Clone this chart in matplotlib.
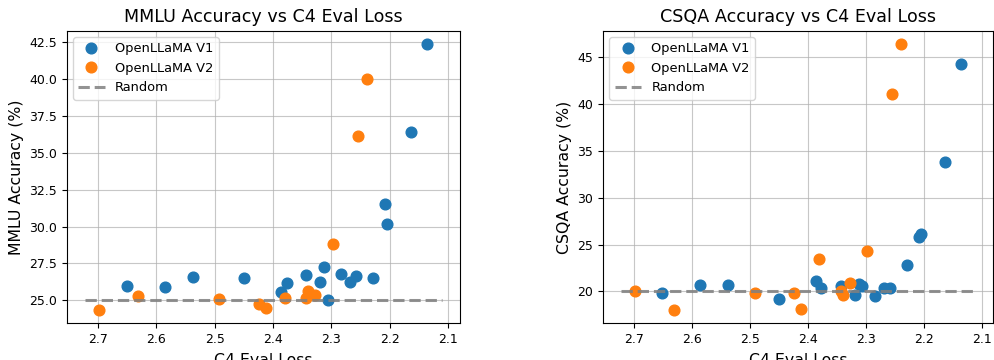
import matplotlib
matplotlib.use("Agg")
import matplotlib.pyplot as plt

# C4 evaluation loss per checkpoint
v1_loss = [2.651, 2.586, 2.538, 2.450, 2.386, 2.377, 2.343, 2.319, 2.312,
           2.306, 2.284, 2.268, 2.258, 2.229, 2.209, 2.205, 2.163, 2.136]
v2_loss = [2.698, 2.631, 2.492, 2.424, 2.412, 2.380, 2.343, 2.340, 2.328,
           2.298, 2.255, 2.239]

# MMLU accuracy (%)
v1_mmlu = [25.95, 25.88, 26.58, 26.53, 25.54, 26.20, 26.74, 26.26, 27.28,
           25.02, 26.76, 26.22, 26.62, 26.53, 31.54, 30.16, 36.43, 42.37]
v2_mmlu = [24.35, 25.32, 25.09, 24.75, 24.50, 25.16, 25.16, 25.63, 25.34,
           28.81, 36.16, 40.02]

# CSQA accuracy (%)
v1_csqa = [19.79, 20.71, 20.64, 19.18, 21.14, 20.39, 20.57, 19.57, 20.78,
           20.57, 19.50, 20.36, 20.36, 22.85, 25.77, 26.16, 33.85, 44.29]
v2_csqa = [20.00, 18.01, 19.79, 19.86, 18.11, 23.42, 20.00, 19.57, 20.85,
           24.31, 41.08, 46.42]

random_mmlu = 25.0
random_csqa = 20.0

x_ticks = [2.7, 2.6, 2.5, 2.4, 2.3, 2.2, 2.1]

fig = plt.figure(figsize=(9.95, 3.6), dpi=100)
ax1 = fig.add_axes([0.067, 0.102, 0.395, 0.813])
ax2 = fig.add_axes([0.606, 0.102, 0.392, 0.813])

all_loss = v1_loss + v2_loss
line_x = [max(all_loss) + 0.025, min(all_loss) - 0.025]

panels = [
    (ax1, v1_mmlu, v2_mmlu, random_mmlu, "MMLU"),
    (ax2, v1_csqa, v2_csqa, random_csqa, "CSQA"),
]

for ax, v1, v2, rnd, name in panels:
    ax.set_axisbelow(True)
    ax.grid(True, color="#b0b0b0", linewidth=0.8, alpha=0.7)
    ax.plot(v1_loss, v1, "o", markersize=7.7, color="#1f77b4",
            label="OpenLLaMA V1")
    ax.plot(v2_loss, v2, "o", markersize=7.7, color="#ff7f0e",
            label="OpenLLaMA V2")
    ax.plot(line_x, [rnd, rnd], linestyle="--", color="gray", alpha=0.85,
            linewidth=2.2, label="Random")
    ax.set_xticks(x_ticks)
    ax.invert_xaxis()
    ax.set_xlabel("C4 Eval Loss", fontsize=11.3, labelpad=5)
    ax.set_ylabel(f"{name} Accuracy (%)", fontsize=11.3)
    ax.set_title(f"{name} Accuracy vs C4 Eval Loss", fontsize=12.6)
    ax.tick_params(labelsize=9)
    ax.legend(loc="upper left", fontsize=9.4)

fig.savefig("out.png", dpi=100)
